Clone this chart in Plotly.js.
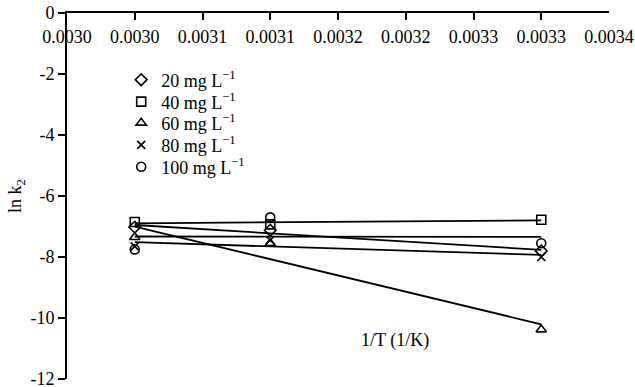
<!DOCTYPE html>
<html>
<head>
<meta charset="utf-8">
<script src="https://cdn.plot.ly/plotly-3.0.1.min.js"></script>
<style>
  html, body { margin: 0; padding: 0; background: #fff; }
  #chart { width: 635px; height: 387px; }
</style>
</head>
<body>
<div id="chart"></div>
<script>
// Inverse temperature (1/K)
const invT = [0.00305, 0.00315, 0.00335];

// ln k2 for each initial concentration
const ln20  = [-7.02, -7.12, -7.80];
const ln40  = [-6.85, -6.93, -6.78];
const ln60  = [-7.35, -7.55, -10.38];
const ln80  = [-7.65, -7.45, -8.00];
const ln100 = [-7.75, -6.70, -7.55];

const seriesNames = [
  '20 mg L<sup>\u22121</sup>',
  '40 mg L<sup>\u22121</sup>',
  '60 mg L<sup>\u22121</sup>',
  '80 mg L<sup>\u22121</sup>',
  '100 mg L<sup>\u22121</sup>'
];

// Axis tick labels
const xTickVals = [0.0030, 0.00305, 0.0031, 0.00315, 0.0032, 0.00325, 0.0033, 0.00335, 0.0034];
const xTickText = ['0.0030', '0.0030', '0.0031', '0.0031', '0.0032', '0.0032', '0.0033', '0.0033', '0.0034'];
const yTickVals = [-12, -10, -8, -6, -4, -2, 0];
const yTickText = ['-12', '-10', '-8', '-6', '-4', '-2', '0'];

const series = [ln20, ln40, ln60, ln80, ln100];
const symbols = ['diamond-open', 'square-open', 'triangle-up-open', 'x-thin-open', 'circle-open'];
const sizes = [9, 9, 9, 8, 9];

// Least-squares straight line through a series, drawn across its x extent
function linearFit(xs, ys) {
  const n = xs.length;
  const mx = xs.reduce((a, b) => a + b, 0) / n;
  const my = ys.reduce((a, b) => a + b, 0) / n;
  let sxy = 0, sxx = 0;
  for (let i = 0; i < n; i++) {
    sxy += (xs[i] - mx) * (ys[i] - my);
    sxx += (xs[i] - mx) * (xs[i] - mx);
  }
  const slope = sxy / sxx;
  const icpt = my - slope * mx;
  const x0 = Math.min(...xs), x1 = Math.max(...xs);
  return { x: [x0, x1], y: [icpt + slope * x0, icpt + slope * x1] };
}

const family = 'Liberation Serif, Times New Roman, serif';
const font = { family: family, size: 18, color: '#000' };

const traces = [];
series.forEach((ys) => {
  const fit = linearFit(invT, ys);
  traces.push({
    x: fit.x, y: fit.y,
    mode: 'lines',
    line: { color: '#000', width: 1.8 },
    showlegend: false,
    hoverinfo: 'skip'
  });
});

// One legend box per series so each key row sits at its own height
const legendIds = ['legend', 'legend2', 'legend3', 'legend4', 'legend5'];
const legendRowY = [0.817, 0.757, 0.699, 0.639, 0.579];

series.forEach((ys, i) => {
  traces.push({
    x: invT, y: ys,
    name: seriesNames[i],
    legend: legendIds[i],
    mode: 'markers',
    marker: {
      symbol: symbols[i],
      size: sizes[i],
      color: '#000',
      line: { color: '#000', width: 1.6 }
    }
  });
});

const layout = {
  width: 635,
  height: 387,
  margin: { l: 67, r: 26, t: 13, b: 8 },
  paper_bgcolor: '#fff',
  plot_bgcolor: '#fff',
  font: font,
  showlegend: true,
  xaxis: {
    range: [0.0030, 0.0034],
    side: 'top',
    showgrid: false,
    zeroline: false,
    showline: true,
    linecolor: '#000',
    linewidth: 2,
    ticks: 'inside',
    ticklen: 7,
    tickwidth: 2,
    tickcolor: '#000',
    tickmode: 'array',
    tickvals: xTickVals,
    ticktext: xTickText,
    ticklabelposition: 'inside',
    ticklabeloverflow: 'allow',
    ticklabelstandoff: 11,
    tickfont: font
  },
  yaxis: {
    range: [-12, 0],
    showgrid: false,
    zeroline: false,
    showline: true,
    linecolor: '#000',
    linewidth: 2,
    ticks: 'outside',
    ticklen: 7,
    tickwidth: 2,
    tickcolor: '#000',
    tickmode: 'array',
    tickvals: yTickVals,
    ticktext: yTickText,
    ticklabeloverflow: 'allow',
    tickfont: font,
    title: { text: 'ln k<sub>2</sub>', font: font, standoff: 4 }
  },
  annotations: [{
    text: '1/T (1/K)',
    xref: 'paper', yref: 'paper',
    x: 0.605, y: 0.104,
    xanchor: 'center', yanchor: 'middle',
    showarrow: false,
    font: font
  }]
};

legendIds.forEach((id, i) => {
  layout[id] = {
    x: 0.1, y: legendRowY[i],
    xanchor: 'left', yanchor: 'middle',
    bgcolor: 'rgba(0,0,0,0)',
    borderwidth: 0,
    font: font,
    itemwidth: 30
  };
});

Plotly.newPlot('chart', traces, layout, { displayModeBar: false, staticPlot: true });
</script>
</body>
</html>
